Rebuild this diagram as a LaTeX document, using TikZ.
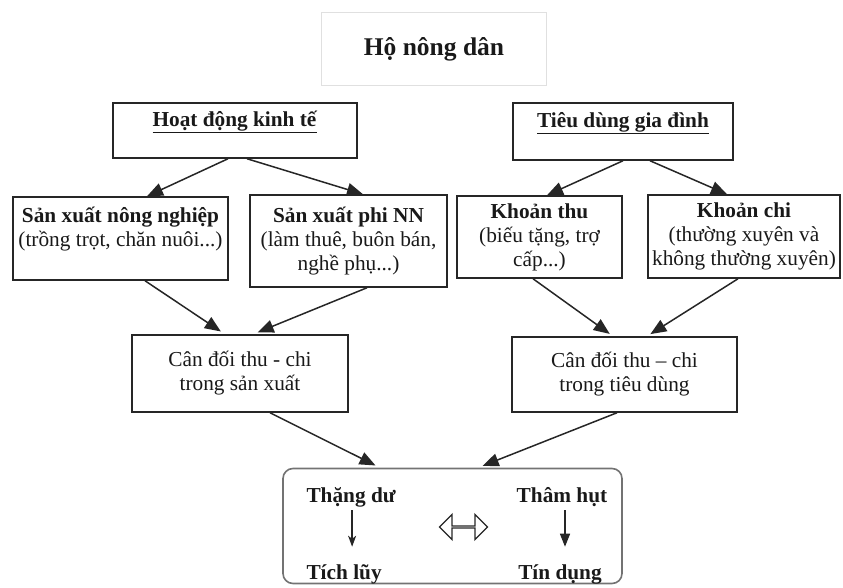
\documentclass[tikz,border=0pt]{standalone}
\usepackage{fontspec}
\setmainfont{Liberation Serif}
\usetikzlibrary{arrows.meta,shapes.arrows}

\begin{document}
\begin{tikzpicture}[x=1pt, y=-1pt,
    box/.style = {draw=black!85, line width=1.5pt, align=center, inner sep=2pt,
                  text=black!90, font=\fontsize{21.3}{24}\selectfont},
    arr/.style = {-{Triangle[length=16pt, width=13pt]}, line width=1.5pt, black!85},
    kqtext/.style = {text=black!90, font=\fontsize{21.3}{24}\selectfont\bfseries}]
  \useasboundingbox (0,0) rectangle (843,588);
  % tieu de
  \node[draw=black!12, line width=.8pt, minimum width=225, minimum height=73, text=black!90,
        font=\fontsize{25.5}{30}\selectfont\bfseries] (ho) at (434,49) {Hộ nông dân};
  % hang 1
  \node[box, minimum width=244, minimum height=55] (hdkt) at (235,130.5)
    {\underline{\textbf{Hoạt động kinh tế}}\\~};
  \node[box, minimum width=220, minimum height=57] (tdgd) at (623,131.5)
    {\underline{\textbf{Tiêu dùng gia đình}}\\~};
  % hang 2
  \node[box, minimum width=215, minimum height=83] (sxnn) at (120.5,238.5)
    {\textbf{Sản xuất nông nghiệp}\\(trồng trọt, chăn nuôi...)\\~};
  \node[box, minimum width=197, minimum height=92] (sxpn) at (348.5,241)
    {\textbf{Sản xuất phi NN}\\(làm thuê, buôn bán,\\nghề phụ...)};
  \node[box, minimum width=165, minimum height=82] (kthu) at (539.5,237)
    {\textbf{Khoản thu}\\(biếu tặng, trợ\\cấp...)};
  \node[box, minimum width=192, minimum height=83] (kchi) at (744,236.5)
    {\textbf{Khoản chi}\\(thường xuyên và\\không thường xuyên)};
  % hang 3
  \node[box, minimum width=216, minimum height=77] (cdsx) at (240,373.5)
    {Cân đối thu - chi\\trong sản xuất};
  \node[box, minimum width=225, minimum height=75] (cdtd) at (624.5,374.5)
    {Cân đối thu – chi\\trong tiêu dùng};
  % ket qua
  \node[draw=black!55, line width=1.6pt, rounded corners=10pt,
        minimum width=339, minimum height=115] (kq) at (452.5,526) {};
  \node[kqtext, anchor=west] (thang) at (303,497) {Thặng dư};
  \node[kqtext, anchor=west] (tichluy) at (303,574) {Tích lũy};
  \node[kqtext] (tham) at (562,497) {Thâm hụt};
  \node[kqtext] (tindung) at (560,574) {Tín dụng};
  \node[double arrow, draw=black!85, line width=1.3pt, minimum height=48, minimum width=25,
        double arrow head extend=7.5pt, inner sep=0pt] (tuong) at (463.5,527) {};

  \draw[arr] ([xshift=-7]hdkt.south) -- ([xshift=26.5]sxnn.north);
  \draw[arr] ([xshift=12]hdkt.south) -- ([xshift=14.5]sxpn.north);
  \draw[arr] (tdgd.south) -- ([xshift=7.5]kthu.north);
  \draw[arr] ([xshift=27]tdgd.south) -- ([xshift=-17]kchi.north);
  \draw[arr, shorten >=5pt] ([xshift=24.5]sxnn.south) -- ([xshift=-15]cdsx.north);
  \draw[arr, shorten >=5pt] ([xshift=18.5]sxpn.south) -- ([xshift=13]cdsx.north);
  \draw[arr, shorten >=4pt] ([xshift=-6.5]kthu.south) -- ([xshift=-11.5]cdtd.north);
  \draw[arr, shorten >=4pt] ([xshift=-6]kchi.south) -- ([xshift=22.5]cdtd.north);
  \draw[arr, shorten >=5pt] ([xshift=30]cdsx.south) -- ([xshift=-72.5]kq.north);
  \draw[arr, shorten >=5pt] ([xshift=-7.5]cdtd.south) -- ([xshift=25.5]kq.north);
  \draw[-{Stealth[length=11pt, width=8pt, inset=3pt]}, line width=1.5pt, black!85, shorten >=14pt]
    ([xshift=1]thang.south) -- ([xshift=1]thang.south |- tichluy.north);
  \draw[-{Triangle[length=13pt, width=10pt]}, line width=1.5pt, black!85, shorten >=14pt]
    ([xshift=3]tham.south) -- ([xshift=3]tham.south |- tindung.north);
\end{tikzpicture}
\end{document}
